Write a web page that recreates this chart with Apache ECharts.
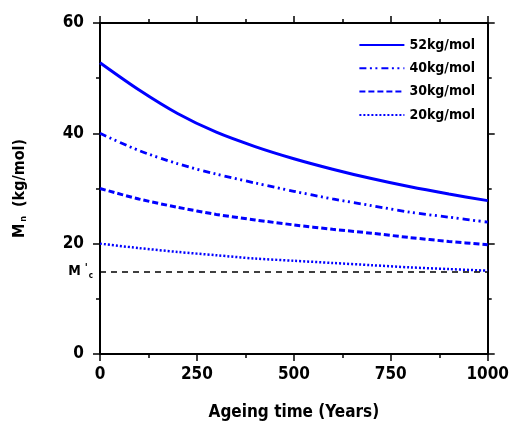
<!DOCTYPE html>
<html>
<head>
<meta charset="utf-8">
<script src="https://cdn.jsdelivr.net/npm/echarts@6/dist/echarts.min.js"></script>
<style>html,body{margin:0;padding:0;background:#fff;}#c{width:512px;height:427px;}</style>
</head>
<body>
<div id="c"></div>
<script>
// Data
const years = [0, 100, 200, 300, 400, 500, 600, 700, 800, 900, 1000];
const mn52 = [52.8, 47.9, 43.6, 40.2, 37.6, 35.4, 33.5, 31.8, 30.3, 29.0, 27.8];
const mn40 = [40.0, 36.9, 34.5, 32.6, 31.0, 29.5, 28.1, 26.9, 25.7, 24.8, 23.9];
const mn30 = [30.0, 28.1, 26.6, 25.3, 24.3, 23.4, 22.6, 21.9, 21.1, 20.4, 19.8];
const mn20 = [20.0, 19.2, 18.5, 17.9, 17.3, 16.9, 16.5, 16.1, 15.7, 15.4, 15.1];
const seriesNames = ['52kg/mol', '40kg/mol', '30kg/mol', '20kg/mol'];
const mcValue = 15;

const FONT = '"Liberation Sans Narrow", "Arial Narrow", "DejaVu Sans Condensed", sans-serif';
const BLUE = '#0000ff';
const pairs = (xs, ys) => xs.map((x, i) => [x, ys[i]]);

const styles = [
  { type: 'solid', width: 3 },
  { type: [7, 3.5, 2, 3.5, 2, 4], width: 2.8 },
  { type: [6, 3], width: 3 },
  { type: [2, 2], width: 2.5 }
];
const allVals = [mn52, mn40, mn30, mn20];

const chart = echarts.init(document.getElementById('c'), null, { renderer: 'canvas' });

const axisCommon = {
  axisLine: { show: true, onZero: false, lineStyle: { color: '#000', width: 2 } },
  axisTick: { show: true, length: 7, lineStyle: { color: '#000', width: 1.5 } },
  minorTick: { show: true, splitNumber: 2, length: 4, lineStyle: { color: '#000', width: 1.5 } },
  splitLine: { show: false }
};

const series = allVals.map((vals, i) => ({
  name: seriesNames[i],
  type: 'line',
  data: pairs(years, vals),
  smooth: 0.3,
  symbol: 'none',
  lineStyle: Object.assign({ color: BLUE }, styles[i]),
  itemStyle: { color: BLUE },
  z: 3
}));

series.push({
  name: 'Mc',
  type: 'line',
  data: [],
  markLine: {
    silent: true,
    symbol: 'none',
    data: [{ yAxis: mcValue }],
    lineStyle: { color: '#000', width: 1.5, type: [6, 5] },
    label: {
      show: true, position: 'start', distance: 7,
      formatter: "{m|M}{q|'}{s|c}",
      rich: {
        m: { fontFamily: FONT, fontWeight: 'bold', fontSize: 14, color: '#000' },
        q: { fontFamily: FONT, fontWeight: 'bold', fontSize: 11, color: '#000', padding: [0, 1, 6, 4] },
        s: { fontFamily: FONT, fontWeight: 'bold', fontSize: 8, color: '#000', padding: [0, 0, -9, 0] }
      }
    }
  },
  z: 2
});

chart.setOption({
  animation: false,
  backgroundColor: '#fff',
  grid: { left: 100, right: 19, top: 23, bottom: 73, containLabel: false },
  legend: {
    data: seriesNames,
    orient: 'vertical',
    right: 32,
    top: 33,
    itemWidth: 45,
    itemHeight: 14,
    itemGap: 9.3,
    itemStyle: { opacity: 0 },
    textStyle: { fontFamily: FONT, fontWeight: 'bold', fontSize: 14, color: '#000' }
  },
  xAxis: [
    Object.assign({}, axisCommon, {
      type: 'value', position: 'bottom', min: 0, max: 1000, interval: 250,
      axisLabel: { margin: 12, fontFamily: FONT, fontWeight: 'bold', fontSize: 17, color: '#000', formatter: v => String(v) },
      name: 'Ageing time (Years)', nameLocation: 'middle', nameGap: 50,
      nameTextStyle: { fontFamily: FONT, fontWeight: 'bold', fontSize: 17, color: '#000' }
    }),
    Object.assign({}, axisCommon, {
      type: 'value', position: 'top', min: 0, max: 1000, interval: 250,
      axisLabel: { show: false }
    })
  ],
  yAxis: [
    Object.assign({}, axisCommon, {
      type: 'value', position: 'left', min: 0, max: 60, interval: 20,
      axisLabel: { margin: 16, fontFamily: FONT, fontWeight: 'bold', fontSize: 17, color: '#000' },
      name: 'M{s|n} (kg/mol)', nameLocation: 'middle', nameGap: 72, nameRotate: 90,
      nameTextStyle: {
        fontFamily: FONT, fontWeight: 'bold', fontSize: 16, color: '#000',
        rich: { s: { fontFamily: FONT, fontWeight: 'bold', fontSize: 9, color: '#000', padding: [0, 4, -8, 2] } }
      }
    }),
    Object.assign({}, axisCommon, {
      type: 'value', position: 'right', min: 0, max: 60, interval: 20,
      axisLabel: { show: false }
    })
  ],
  series: series
});
</script>
</body>
</html>
